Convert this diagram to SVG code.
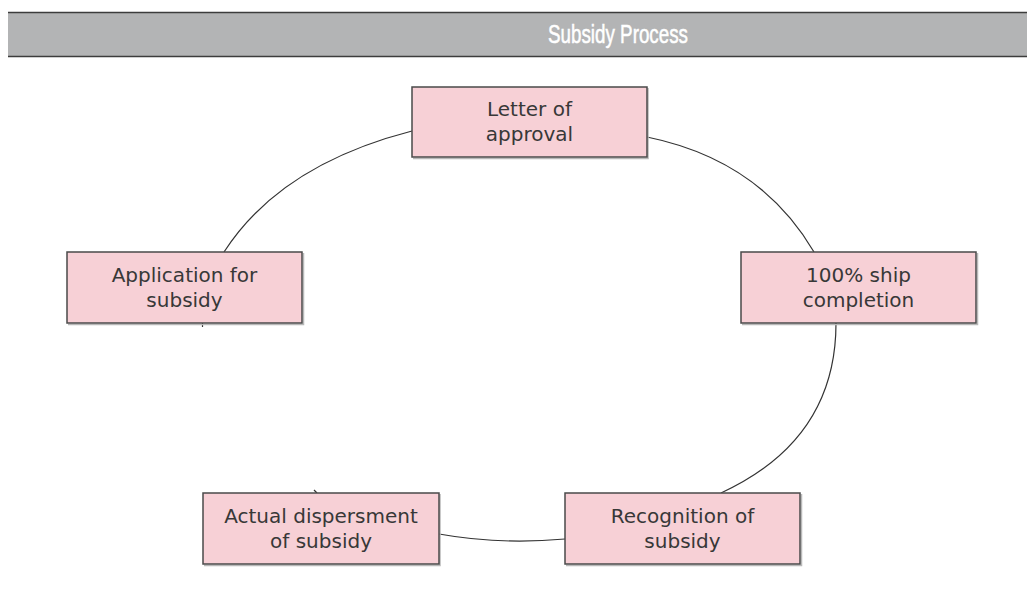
<svg xmlns="http://www.w3.org/2000/svg" width="1027" height="591" viewBox="0 0 1027 591">
<style>
.box{fill:#f7d0d6;stroke:#4a4a4a;stroke-width:1.5}
.sh{fill:none;stroke:#b8b8b8;stroke-width:1.5}
.lbl{font-family:"DejaVu Sans","Liberation Sans",sans-serif;font-size:20px;fill:#383838;text-anchor:middle}
.conn{fill:none;stroke:#333;stroke-width:1.2}
.title{font-family:"Liberation Sans","DejaVu Sans Condensed",sans-serif;font-size:25px;fill:#fff;stroke:#fff;stroke-width:0.5;text-anchor:middle}
</style>
<rect width="1027" height="591" fill="#fff"/>
<g id="header">
<rect x="8" y="12" width="1019" height="45" fill="#b3b4b5"/>
<line x1="8" y1="12.5" x2="1027" y2="12.5" stroke="#3c3c3c" stroke-width="1.5"/>
<line x1="8" y1="56.5" x2="1027" y2="56.5" stroke="#3c3c3c" stroke-width="1.5"/>
<text class="title" x="618" y="43" textLength="140" lengthAdjust="spacingAndGlyphs">Subsidy Process</text>
</g>
<g id="connectors">
<path class="conn" d="M224,252 Q280,165 412,131"/>
<path class="conn" d="M647,137 Q760,160 814,252"/>
<path class="conn" d="M836,323 Q836,440 721,493"/>
<path class="conn" d="M565,539 Q500,545 439,534"/>
<path class="conn" d="M202.5,323 L202.5,327"/>
<path class="conn" d="M314,490 L317,493"/>
</g>
<g id="letter">
<polyline class="sh" points="648,88 648,158.5 413,158.5"/>
<rect class="box" x="412" y="87" width="235" height="70"/>
<text class="lbl" x="529.5" y="116">Letter of</text>
<text class="lbl" x="529.5" y="141">approval</text>
</g>
<g id="application">
<polyline class="sh" points="303.5,253 303.5,324.5 68,324.5"/>
<rect class="box" x="67" y="252" width="235" height="71"/>
<text class="lbl" x="184.5" y="282">Application for</text>
<text class="lbl" x="184.5" y="307">subsidy</text>
</g>
<g id="completion">
<polyline class="sh" points="977.5,253 977.5,324.5 742,324.5"/>
<rect class="box" x="741" y="252" width="235" height="71"/>
<text class="lbl" x="858.5" y="282">100% ship</text>
<text class="lbl" x="858.5" y="307">completion</text>
</g>
<g id="actual">
<polyline class="sh" points="440,494 440,565.5 204,565.5"/>
<rect class="box" x="203" y="493" width="236" height="71"/>
<text class="lbl" x="321" y="523">Actual dispersment</text>
<text class="lbl" x="321" y="548">of subsidy</text>
</g>
<g id="recognition">
<polyline class="sh" points="801.5,494 801.5,565.5 566,565.5"/>
<rect class="box" x="565" y="493" width="235" height="71"/>
<text class="lbl" x="682.5" y="523">Recognition of</text>
<text class="lbl" x="682.5" y="548">subsidy</text>
</g>
</svg>
